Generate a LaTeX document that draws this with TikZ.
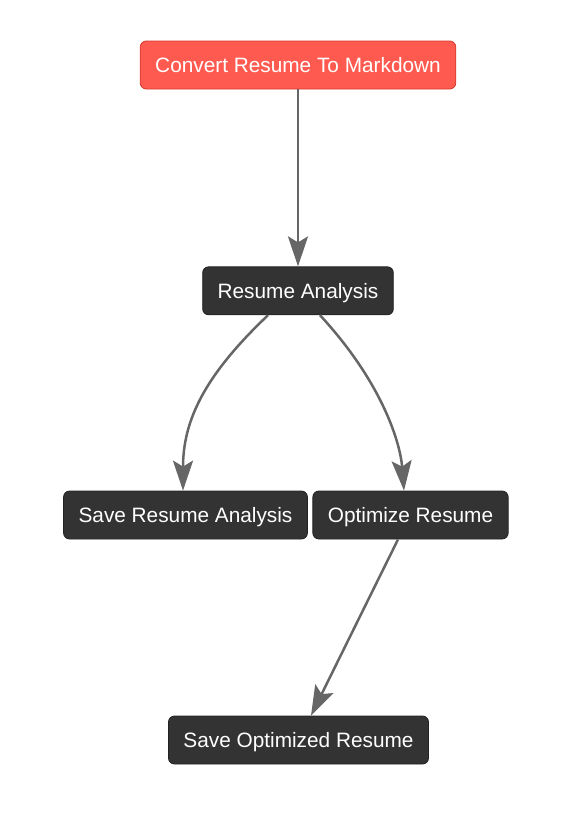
\documentclass[tikz,border=0pt]{standalone}
\usepackage{fontspec}
\setmainfont{Liberation Sans}
\usetikzlibrary{arrows.meta,positioning}

\definecolor{startred}{HTML}{FF5A4F}
\definecolor{startedge}{HTML}{D63A2F}
\definecolor{stepdark}{HTML}{333333}
\definecolor{stepedge}{HTML}{222222}
\definecolor{linkgray}{HTML}{666666}

\begin{document}
\begin{tikzpicture}[
      x=1pt, y=1pt,
      box/.style={draw=stepedge, fill=stepdark, text=white, rounded corners=6pt, align=center,
        minimum height=48pt, inner xsep=15pt, text height=19pt, text depth=4pt,
        font=\fontsize{20.8}{25}\selectfont, line width=0.8pt},
      startbox/.style={box, draw=startedge, fill=startred},
      arr/.style={-{Stealth[length=30pt, width=20pt, inset=6pt]}, draw=linkgray, line width=2.5pt}
    ]
      \useasboundingbox (0,0) rectangle (565,-817);
      \node[startbox] (conv) at (298,-65) {Convert Resume To Markdown};
      \node[box, below=177pt of conv] (ana) {Resume Analysis};
      \node[box] (savea) at (185.5,-515) {Save Resume Analysis};
      \node[box] (opt) at (410.5,-515) {Optimize Resume};
      \node[box] (saveo) at (298.5,-740) {Save Optimized Resume};
      \draw[arr] (conv) -- (ana);
      \draw[arr] ([xshift=-30pt]ana.south) .. controls (205,-375) and (183,-420) .. ([xshift=-2.5pt]savea.north);
      \draw[arr] ([xshift=22pt]ana.south) .. controls (380,-380) and (400,-440) .. ([xshift=-6.5pt]opt.north);
      \draw[arr] ([xshift=-12.5pt]opt.south) -- ([xshift=12.5pt]saveo.north);
    \end{tikzpicture}
\end{document}
